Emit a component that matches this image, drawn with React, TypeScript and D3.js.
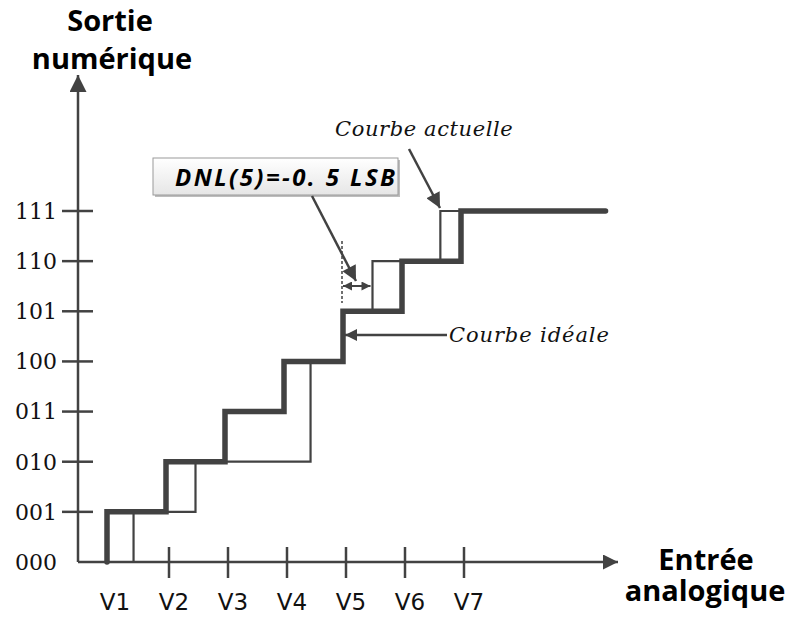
import React from "react";
import * as d3 from "d3";

// ---- data ----
const inputLabels = ["V1", "V2", "V3", "V4", "V5", "V6", "V7"];
const inputValues = [1, 2, 3, 4, 5, 6, 7];
const codeLabels = ["000", "001", "010", "011", "100", "101", "110", "111"];
const codeValues = [0, 1, 2, 3, 4, 5, 6, 7];
// ideal transfer curve: input at which each code is reached
const idealInputs = [1, 1, 2, 3, 4, 5, 6, 7, 9.45];
const idealCodes = [0, 1, 2, 3, 4, 5, 6, 7, 7];
// actual transfer curve (missing code 011, DNL(5) = -0.5 LSB)
const actualInputs = [1.45, 1.45, 2.5, 4.45, 5, 5.5, 6.65, 9.45];
const actualCodes = [0, 1, 2, 4, 5, 6, 7, 7];

const W = 794;
const H = 617;
const C = "#424242";

export default function App() {
  const x = d3.scaleLinear().domain([1, 7]).range([107, 461]);
  const y = d3.scaleLinear().domain([0, 7]).range([562, 211]);
  const axisX = 78;
  const axisY = y(0);

  const line = d3
    .line<[number, number]>()
    .x((d) => x(d[0]))
    .y((d) => y(d[1]))
    .curve(d3.curveStepAfter);

  const idealPts = idealInputs.map((v, i) => [v, idealCodes[i]] as [number, number]);
  const actualPts = actualInputs.map((v, i) => [v, actualCodes[i]] as [number, number]);

  const tickShift = 3;
  const sans = "'Open Sans', sans-serif";
  const serif = "'DejaVu Serif', serif";

  return (
    <svg
      width={W}
      height={H}
      style={{ position: "absolute", left: 0, top: 0, background: "#fff" }}
    >
      <defs>
        <marker id="ahBig" viewBox="0 0 10 10" refX="10" refY="5" markerUnits="userSpaceOnUse" markerWidth="21" markerHeight="15" orient="auto">
          <path d="M0,0 L10,5 L0,10 z" fill={C} />
        </marker>
        <marker id="ahMid" viewBox="0 0 10 10" refX="10" refY="5" markerUnits="userSpaceOnUse" markerWidth="15" markerHeight="12" orient="auto">
          <path d="M0,0 L10,5 L0,10 z" fill={C} />
        </marker>
        <marker id="ahSmall" viewBox="0 0 10 10" refX="10" refY="5" markerUnits="userSpaceOnUse" markerWidth="12" markerHeight="9" orient="auto-start-reverse">
          <path d="M0,0 L10,5 L0,10 z" fill={C} />
        </marker>
        <marker id="ahAxisY" viewBox="0 0 10 10" refX="10" refY="5" markerUnits="userSpaceOnUse" markerWidth="23" markerHeight="17" orient="auto">
          <path d="M0,0 L10,5 L0,10 z" fill={C} />
        </marker>
        <marker id="ahAxisX" viewBox="0 0 10 10" refX="10" refY="5" markerUnits="userSpaceOnUse" markerWidth="25" markerHeight="15" orient="auto">
          <path d="M0,0 L10,5 L0,10 z" fill={C} />
        </marker>
        <linearGradient id="boxFill" x1="0" y1="0" x2="0" y2="1">
          <stop offset="0" stopColor="#ffffff" />
          <stop offset="1" stopColor="#e6e6e6" />
        </linearGradient>
      </defs>

      {/* axes */}
      <line x1={axisX} y1={axisY} x2={axisX} y2={75} stroke={C} strokeWidth={2.5} markerEnd="url(#ahAxisY)" />
      <line x1={axisX} y1={axisY} x2={618} y2={axisY} stroke={C} strokeWidth={2.5} markerEnd="url(#ahAxisX)" />

      {/* y ticks + labels */}
      {codeValues.map((c, i) => (
        <g key={"yc" + c}>
          {c > 0 && (
            <line x1={62} x2={93} y1={y(c)} y2={y(c)} stroke={C} strokeWidth={2.5} />
          )}
          <text
            x={57}
            y={y(c)}
            dy="0.36em"
            textAnchor="end"
            fontFamily={serif}
            fontSize={22}
            fill="#111"
          >
            {codeLabels[i]}
          </text>
        </g>
      ))}

      {/* x ticks + labels */}
      {inputValues.map((v, i) => (
        <g key={"xv" + v}>
          {v > 1 && (
            <line
              x1={x(v) + tickShift}
              x2={x(v) + tickShift}
              y1={axisY - 15}
              y2={axisY + 16}
              stroke={C}
              strokeWidth={2.5}
            />
          )}
          <text
            x={x(v) + 8}
            y={610}
            textAnchor="middle"
            fontFamily="'DejaVu Sans', sans-serif"
            fontSize={23}
            fill="#111"
          >
            {inputLabels[i]}
          </text>
        </g>
      ))}

      {/* actual curve (thin) */}
      <path d={line(actualPts) || ""} fill="none" stroke={C} strokeWidth={2.2} strokeLinejoin="miter" />
      {/* ideal curve (thick) */}
      <path d={line(idealPts) || ""} fill="none" stroke={C} strokeWidth={5.5} strokeLinejoin="miter" strokeLinecap="round" />

      {/* DNL annotation */}
      <rect x={155} y={160} width={245} height={37} fill="#bdbdbd" />
      <rect x={153} y={158} width={245} height={37} fill="url(#boxFill)" stroke="#9a9a9a" strokeWidth={1} />
      <text
        x={175}
        y={186}
        fontFamily={sans}
        fontWeight="bold"
        fontStyle="italic"
        fontSize={24}
        textLength={220}
        lengthAdjust="spacing"
        fill="#000"
      >
        DNL(5)=-0. 5 LSB
      </text>
      <line x1={312} y1={196} x2={356} y2={281} stroke={C} strokeWidth={2.5} markerEnd="url(#ahBig)" />
      <line x1={x(5) - 1} x2={x(5) - 1} y1={241} y2={303} stroke={C} strokeWidth={1.5} strokeDasharray="3,2" />
      <line x1={x(5)} x2={x(5.5) - 2} y1={286} y2={286} stroke={C} strokeWidth={2} markerStart="url(#ahSmall)" markerEnd="url(#ahSmall)" />

      {/* Courbe idéale */}
      <line x1={447} y1={335} x2={x(5) + 2} y2={335} stroke={C} strokeWidth={2.5} markerEnd="url(#ahMid)" />
      <text x={449} y={342} fontFamily={serif} fontStyle="italic" fontSize={21} letterSpacing={0.9} fill="#111">
        Courbe idéale
      </text>

      {/* Courbe actuelle */}
      <text x={335} y={136} fontFamily={serif} fontStyle="italic" fontSize={21} letterSpacing={0.6} fill="#111">
        Courbe actuelle
      </text>
      <line x1={409} y1={149} x2={440} y2={208} stroke={C} strokeWidth={2.5} markerEnd="url(#ahBig)" />

      {/* axis titles */}
      <text x={110} y={31} textAnchor="middle" fontFamily={sans} fontWeight="bold" fontSize={29} fill="#000">
        Sortie
      </text>
      <text x={112} y={69} textAnchor="middle" fontFamily={sans} fontWeight="bold" fontSize={29} fill="#000">
        numérique
      </text>
      <text x={706} y={570} textAnchor="middle" fontFamily={sans} fontWeight="bold" fontSize={29} fill="#000">
        Entrée
      </text>
      <text x={705} y={601} textAnchor="middle" fontFamily={sans} fontWeight="bold" fontSize={29} fill="#000">
        analogique
      </text>
    </svg>
  );
}
